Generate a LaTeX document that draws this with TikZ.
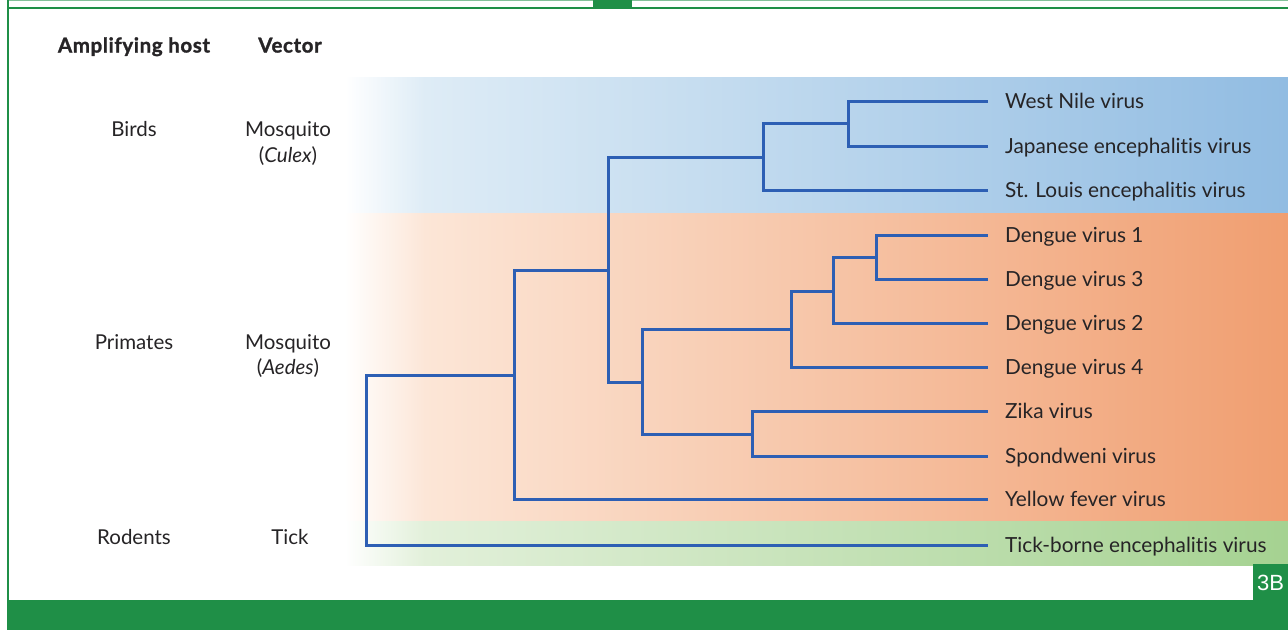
\documentclass[tikz,border=0pt]{standalone}
\usepackage{fontspec}
\setmainfont{Lato}[Ligatures={NoCommon}]
\newfontfamily\hdrfont{Lato}[Ligatures={NoCommon}, LetterSpace=3, BoldFeatures={FakeBold=1.3}]
\newfontfamily\tagfont{Liberation Sans}
\definecolor{framegreen}{RGB}{31,143,71}
\definecolor{treeblue}{RGB}{45,95,180}
\definecolor{txt}{RGB}{38,36,38}
\definecolor{blueA}{RGB}{222,236,246}
\definecolor{blueB}{RGB}{145,188,226}
\definecolor{orangeA}{RGB}{252,230,215}
\definecolor{orangeB}{RGB}{240,158,112}
\definecolor{greenA}{RGB}{226,240,218}
\definecolor{greenB}{RGB}{165,210,145}
\tikzset{
  lbl/.style={anchor=base, text=txt, inner sep=0pt, font=\fontsize{20.5}{22}\selectfont},
  hdr/.style={anchor=base, text=txt, inner sep=0pt, font=\hdrfont\fontsize{20.5}{22}\selectfont\bfseries},
  leaf/.style={anchor=base west, text=txt, inner sep=0pt, font=\fontsize{20.8}{22}\selectfont},
  branch/.style={draw=treeblue, line width=3pt, line join=miter},
}
\begin{document}
\begin{tikzpicture}[x=1pt,y=-1pt]
\useasboundingbox (0,0) rectangle (1288,630);
\fill[white] (0,0) rectangle (1288,630);
% bands
\shade[left color=white, right color=blueA] (345,77) rectangle (425,213);
\shade[left color=blueA, right color=blueB] (424.5,77) rectangle (1288,213);
\shade[left color=white, right color=orangeA] (345,213) rectangle (425,521);
\shade[left color=orangeA, right color=orangeB] (424.5,213) rectangle (1288,521);
\shade[left color=white, right color=greenA] (345,521) rectangle (425,565);
\shade[left color=greenA, right color=greenB] (424.5,521) rectangle (1288,565);
% frame
\draw[framegreen!55, line width=1pt] (8,0.5) -- (593,0.5) (632,0.5) -- (1288,0.5);
\fill[framegreen] (593,0) rectangle (632,8);
\draw[framegreen, line width=2pt] (8,0) -- (8,601);
\draw[framegreen, line width=2pt] (7,7.5) -- (1288,7.5);
\fill[framegreen] (7,600) rectangle (1288,630);
\fill[framegreen] (1253,564) rectangle (1288,601);
\node[text=white, font=\tagfont\fontsize{22}{24}\selectfont, inner sep=0pt] (tag) at (1270.5,582.5) {3B};
% headers and left labels
\node[hdr] (hhost) at (134,52.5) {Amplifying host};
\node[hdr] (hvec) at (290,52.5) {Vector};
\node[lbl] (birds) at (134,136.5) {Birds};
\node[lbl] (mosq1) at (288,136.5) {Mosquito};
\node[lbl] (culex) at (288,162.5) {(\textit{Culex})};
\node[lbl] (prim) at (134,349) {Primates};
\node[lbl] (mosq2) at (288,349) {Mosquito};
\node[lbl] (aedes) at (288,374) {(\textit{Aedes})};
\node[lbl] (rod) at (134,544.5) {Rodents};
\node[lbl] (tick) at (290,544.5) {Tick};
% leaves
\foreach \n/\y/\t in {wn/101/West Nile virus, je/146/Japanese encephalitis virus, sl/190/St. Louis encephalitis virus,
  d1/235/Dengue virus 1, d3/279/Dengue virus 3, d2/323/Dengue virus 2, d4/367/Dengue virus 4,
  zk/411/Zika virus, sp/456/Spondweni virus, yf/499/Yellow fever virus, tb/545/Tick-borne encephalitis virus}{
  \coordinate (\n) at (988,\y);
  \node[leaf] (\n-lab) at (1005,\y+7.5) {\t};
}
% internal nodes
\coordinate (R) at (366,460);
\coordinate (A) at (514,375);
\coordinate (B) at (608,270);
\coordinate (C) at (763,157);
\coordinate (E) at (848,123.5);
\coordinate (D) at (642,382);
\coordinate (F) at (791,329);
\coordinate (H) at (833,291);
\coordinate (I) at (876,257);
\coordinate (G) at (752,434);
% branches
\draw[branch] (R) |- (A);
\draw[branch] (R) |- (tb);
\draw[branch] (A) |- (B);
\draw[branch] (A) |- (yf);
\draw[branch] (B) |- (C);
\draw[branch] (B) |- (D);
\draw[branch] (C) |- (E);
\draw[branch] (C) |- (sl);
\draw[branch] (E) |- (wn);
\draw[branch] (E) |- (je);
\draw[branch] (D) |- (F);
\draw[branch] (D) |- (G);
\draw[branch] (F) |- (H);
\draw[branch] (F) |- (d4);
\draw[branch] (H) |- (I);
\draw[branch] (H) |- (d2);
\draw[branch] (I) |- (d1);
\draw[branch] (I) |- (d3);
\draw[branch] (G) |- (zk);
\draw[branch] (G) |- (sp);
\end{tikzpicture}
\end{document}
